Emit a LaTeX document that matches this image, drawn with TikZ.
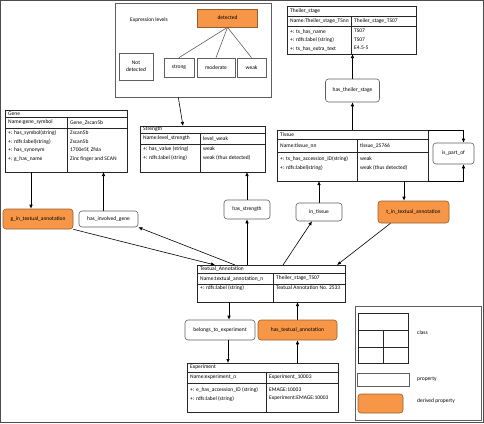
\documentclass[tikz,border=0pt]{standalone}
\usepackage{fontspec}
\setsansfont{Carlito}
\usetikzlibrary{arrows.meta,positioning}
\definecolor{derived}{RGB}{247,150,70}
\definecolor{derivededge}{RGB}{150,95,45}
\definecolor{edgegray}{RGB}{95,95,95}
\tikzset{
  lbl/.style={font=\sffamily\fontsize{5.5}{8.6}\selectfont, inner sep=0pt, align=left},
  classbox/.style={draw=black!85, line width=0.8pt, rectangle, inner sep=0pt, outer sep=0pt},
  classline/.style={draw=black!85, line width=0.6pt},
  prop/.style={draw=edgegray, rounded corners=3pt, rectangle, fill=white, inner sep=0pt, align=center, font=\sffamily\fontsize{5.5}{6.5}\selectfont, line width=0.6pt},
  dprop/.style={prop, fill=derived, draw=derivededge},
  level/.style={draw=edgegray, rectangle, inner sep=0pt, align=center, font=\sffamily\fontsize{5.5}{7}\selectfont, line width=0.7pt},
  arr/.style={-{Latex[length=4pt,width=3.5pt]}, line width=0.6pt},
}
% class box: name, x1, y1, x2, y2, column divider, header line, name line, header text
\newcommand{\umlclass}[9]{%
  \node[classbox, anchor=north west, minimum width={(#4)-(#2)}, minimum height={(#5)-(#3)}] (#1) at (#2,#3) {};
  \draw[classline] (#2,#7) -- (#4,#7);
  \draw[classline] (#2,#8) -- (#4,#8);
  \draw[classline] (#6,#7) -- (#6,#5);
  \node[lbl, anchor=west] at ({#2+3},{(#3+#7)/2}) {#9};
}

\begin{document}
\begin{tikzpicture}[x=1pt, y=-1pt]
\useasboundingbox (0,0) rectangle (484,423);
\draw[black!70, line width=1pt] (0.5,0.5) rectangle (483.5,422.5);

% expression levels
\node[draw=edgegray, line width=0.7pt, rectangle, inner sep=0pt, anchor=north west, minimum width=156, minimum height=94] (exprbox) at (115,3) {};
\node[lbl, anchor=west] (exprlabel) at (130,20) {Expression levels};
\node[level, fill=derived, draw=derivededge, minimum width=60, minimum height=18] (detected) at (227.5,18) {detected};
\node[level, minimum width=34, minimum height=27] (notdetected) at (136,66.5) {Not\\detected};
\node[level, minimum width=30, minimum height=19] (strong) at (179,67.5) {strong};
\node[level, minimum width=38, minimum height=19] (moderate) at (216,67.5) {moderate};
\node[level, minimum width=29, minimum height=19] (weak) at (251.5,67.5) {weak};
\foreach \lv in {strong,moderate,weak}
  \draw[edgegray, line width=0.6pt] (detected.south) -- (\lv.north);

% classes
\umlclass{theiler}{287}{6}{416}{54}{351}{16}{26.5}{Theiler\_stage}
\node[lbl, anchor=west] at (290,21.25) {Name:Theiler\_stage\_TSnn};
\node[lbl, anchor=west] at (354,21.25) {Theiler\_stage\_TS07};
\node[lbl, anchor=north west] at (290,29) {+: ts\_has\_name\\+: rdfs:label (string)\\+: ts\_has\_extra\_text};
\node[lbl, anchor=north west] at (354,29) {TS07\\TS07\\E4.5-5};

\umlclass{gene}{5}{110}{127}{172}{67}{117}{128}{Gene}
\node[lbl, anchor=west] at (8,122.5) {Name:gene\_symbol};
\node[lbl, anchor=west] at (70,122.5) {Gene\_Zscan5b};
\node[lbl, anchor=north west] at (8,130.5) {+: has\_symbol(string)\\+: rdfs:label(string)\\+: has\_synonym\\+: g\_has\_name};
\node[lbl, anchor=north west] at (70,130.5) {Zscan5b\\Zscan5b\\1700e5f, Zfsla\\Zinc finger and SCAN};

\umlclass{strength}{140}{126}{265}{172}{200}{133}{144}{Strength}
\node[lbl, anchor=west] at (143,138.5) {Name:level\_strength};
\node[lbl, anchor=west] at (203,138.5) {level\_weak};
\node[lbl, anchor=north west] at (143,146.5) {+: has\_value (string)\\+: rdfs:label (string)};
\node[lbl, anchor=north west] at (203,146.5) {weak\\weak (thus detected)};

\umlclass{tissue}{277}{130}{428}{181}{357}{139}{152}{Tissue}
\node[lbl, anchor=west] at (280,145.5) {Name:tissue\_nn};
\node[lbl, anchor=west] at (360,145.5) {tissue\_25766};
\node[lbl, anchor=north west] at (280,156.5) {+: ts\_has\_accession\_ID(string)\\+: rdfs:label(string)};
\node[lbl, anchor=north west] at (360,156.5) {weak\\weak (thus detected)};

\umlclass{ta}{197}{265}{345}{302}{273}{273}{284}{Textual\_Annotation}
\node[lbl, anchor=west] at (200,278.5) {Name:textual\_annotation\_n};
\node[lbl, anchor=west] at (276,278.5) {Theiler\_stage\_TS07};
\node[lbl, anchor=north west] at (200,285.5) {+: rdfs:label (string)};
\node[lbl, anchor=north west] at (276,285.5) {Textual Annotation No. 2533};

\umlclass{experiment}{187}{363}{338}{412}{266}{372}{383}{Experiment}
\node[lbl, anchor=west] at (190,377.5) {Name:experiment\_n};
\node[lbl, anchor=west] at (269,377.5) {Experiment\_10003};
\node[lbl, anchor=north west] at (190,387.5) {+: e\_has\_accession\_ID (string)\\+: rdfs:label (string)};
\node[lbl, anchor=north west] at (269,387.5) {EMAGE:10003\\Experiment:EMAGE:10003};

% properties
\node[dprop, minimum width=70, minimum height=20] (ginta) at (38,219) {g\_in\_textual\_annotation};
\node[prop, minimum width=59, minimum height=16] (hasinvolvedgene) at (108.5,219) {has\_involved\_gene};
\node[prop, minimum width=46, minimum height=19] (hasstrength) at (247,209.5) {has\_strength};
\node[prop, minimum width=46, minimum height=18] (intissue) at (319,212) {in\_tissue};
\node[dprop, minimum width=71, minimum height=22] (tinta) at (413.5,212) {t\_in\_textual\_annotation};
\node[prop, minimum width=54, minimum height=23] (hastheilerstage) at (352.5,90.5) {has\_theiler\_stage};
\node[prop, minimum width=41, minimum height=21] (ispartof) at (453.5,153.5) {is\_part\_of};
\node[prop, minimum width=70, minimum height=20] (belongs) at (220,330) {belongs\_to\_experiment};
\node[dprop, minimum width=79, minimum height=20] (hasta) at (297.5,330) {has\_textual\_annotation};

% connectors
\draw[arr] ([xshift=-15pt]exprbox.south) -- ([xshift=-19.5pt]strength.north);
\draw[arr] ([xshift=-7pt]ginta.north |- gene.south) -- ([xshift=-7pt]ginta.north);
\draw[arr] ([xshift=-5pt]hasinvolvedgene.north) -- ([xshift=-5pt]hasinvolvedgene.north |- gene.south);
\draw[arr] (hasstrength.north) -- (hasstrength.north |- strength.south);
\draw[arr] (hasstrength.south |- ta.north) -- (hasstrength.south);
\draw[arr] (tissue.north) -- (hastheilerstage.south);
\draw[arr] (hastheilerstage.north) -- (hastheilerstage.north |- theiler.south);
\draw[arr] (tissue.north east) -| ([xshift=10pt]ispartof.north);
\draw[arr] (tissue.south east) -| ([xshift=10pt]ispartof.south);
\draw[arr] ([xshift=-9.5pt]tinta.north |- tissue.south) -- ([xshift=-9.5pt]tinta.north);
\draw[arr] (intissue.north) -- (intissue.north |- tissue.south);
\draw[arr] (ginta.south east) -- ([xshift=18pt]ta.north west);
\draw[arr] ([xshift=38pt]ta.north west) -- (hasinvolvedgene.south east);
\draw[arr] ([xshift=86pt]ta.north west) -- ([xshift=-7pt]intissue.south);
\draw[arr] ([xshift=-23pt]tinta.south) -- ([xshift=-8pt]ta.north east);
\draw[arr] ([xshift=9pt]belongs.north |- ta.south) -- ([xshift=9pt]belongs.north);
\draw[arr] ([xshift=8pt]belongs.south) -- ([xshift=8pt]belongs.south |- experiment.north);
\draw[arr] (hasta.south |- experiment.north) -- (hasta.south);
\draw[arr] (hasta.north) -- (hasta.north |- ta.south);

% legend
\node[draw=edgegray, line width=0.7pt, rectangle, inner sep=0pt, anchor=north west, minimum width=126, minimum height=114] (legend) at (355,306) {};
\node[classbox, anchor=north west, minimum width=50, minimum height=50] (legclass) at (358,313) {};
\draw[classline] (358,330) -- (408,330);
\draw[classline] (358,347) -- (408,347);
\draw[classline] (383,330) -- (383,363);
\node[draw=edgegray, rectangle, inner sep=0pt, line width=0.6pt, minimum width=52, minimum height=13] (legprop) at (383,379.5) {};
\node[dprop, minimum width=45, minimum height=19] (legderived) at (380.5,403.5) {};
\node[lbl, anchor=west] at (417,333) {class};
\node[lbl, anchor=west] at (417,379) {property};
\node[lbl, anchor=west] at (417,401) {derived property};
\end{tikzpicture}
\end{document}
